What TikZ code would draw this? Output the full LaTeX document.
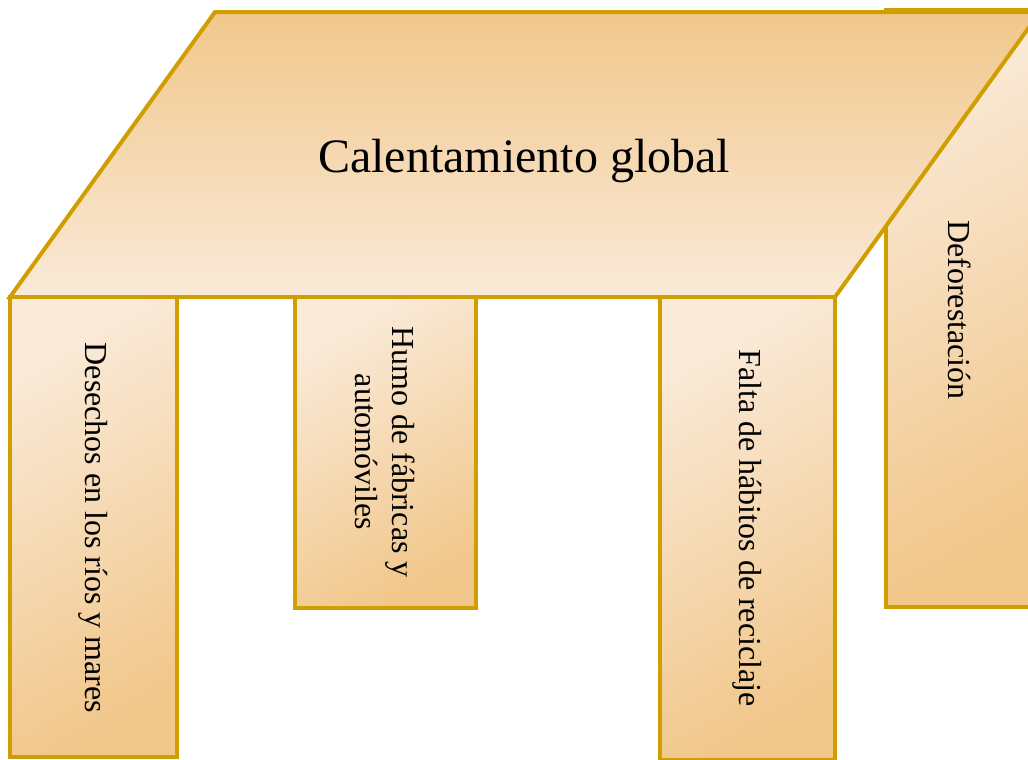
\documentclass[tikz,border=0pt]{standalone}
\usepackage{fontspec}
\setmainfont{Liberation Serif}
\definecolor{edgeC}{RGB}{208,158,0}
\definecolor{orD}{RGB}{241,199,139}
\definecolor{orL}{RGB}{250,234,216}
\tikzset{
  shapeline/.style={draw=edgeC, line width=3pt, line join=miter},
  legfill/.style={shapeline, top color=orL, bottom color=orD, shading angle=30},
  legtext/.style={rotate=-90, font=\fontsize{24}{28}\selectfont, align=center, text=black},
}
\begin{document}
\begin{tikzpicture}[x=0.75pt, y=-0.75pt]
\useasboundingbox (0,0) rectangle (1028,760);
\clip (0,0) rectangle (1028,760);
% back leg (behind the top)
\path[legfill] (886,10) rectangle (1034,607);
\node[legtext] (l4) at (960,310) {Deforestación};
% table top
\path[shapeline, top color=orD, bottom color=orL] (215,12) -- (1040,12) -- (835,297) -- (10,297) -- cycle;
\node[font=\fontsize{36}{40}\selectfont] (top) at (524,161) {Calentamiento global};
% front legs
\path[legfill] (10,297) rectangle (177,757);
\node[legtext] (l1) at (93,528) {Desechos en los ríos y mares};
\path[legfill] (295,297) rectangle (476,608);
\node[legtext] (l2) at (385,452) {Humo de fábricas y\\automóviles};
\path[legfill] (660,297) rectangle (835,760);
\node[legtext] (l3) at (747,528) {Falta de hábitos de reciclaje};
\end{tikzpicture}
\end{document}
